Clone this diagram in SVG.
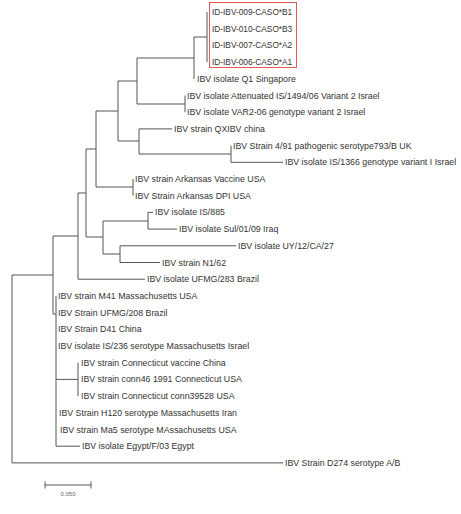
<svg xmlns="http://www.w3.org/2000/svg" width="461" height="514" viewBox="0 0 461 514">
<style>
.l{font-family:"Liberation Sans",Arial,sans-serif;font-size:8.8px;fill:#333}
.i{font-size:8.3px}
.e{stroke:#555;stroke-width:1;fill:none}
.s{font-family:"Liberation Sans",Arial,sans-serif;font-size:6px;fill:#666}
</style>
<rect width="461" height="514" fill="#fff"/>
<g id="connectors" class="e">
<path d="M207 12V62.1"/>
<path d="M194 37H207M194 37V78.8"/>
<path d="M185 95.5V112.2"/>
<path d="M137 58H194M137 104H185M137 58V104"/>
<path d="M231 145.6V162.3M231 162.3H283"/>
<path d="M139 128.9H172M139 154H231M139 128.9V154"/>
<path d="M118 81H137M118 141H139M118 81V141"/>
<path d="M133 179V195.7"/>
<path d="M96 111H118M96 187H133M96 111V187"/>
<path d="M148 212.4H153M148 229.1H177M148 212.4V229.1"/>
<path d="M120 245.8H236M120 262.5H160M120 245.8V262.5"/>
<path d="M103 221H148M103 254H120M103 221V254"/>
<path d="M86 149H96M86 237H103M86 149V237"/>
<path d="M78 193H86M78 279.2H145M78 193V279.2"/>
<path d="M78 362.7V396.1"/>
<path d="M56 295.9V446.2M56 379.4H78M56 446.2H80"/>
<path d="M53 236H78M53 314H56M53 236V314"/>
<path d="M12 275H53M12 462.9H283M12 275V462.9"/>
</g>
<g id="highlight"><rect x="209.5" y="2.5" width="87" height="65" fill="none" stroke="#e05a5a" stroke-width="1"/></g>
<g id="n1"><text class="l i" x="212" y="15">ID-IBV-009-CASO*B1</text></g>
<g id="n2"><text class="l i" x="212" y="31.7">ID-IBV-010-CASO*B3</text></g>
<g id="n3"><text class="l i" x="212" y="48.4">ID-IBV-007-CASO*A2</text></g>
<g id="n4"><text class="l i" x="212" y="65.1">ID-IBV-006-CASO*A1</text></g>
<g id="n5"><text class="l" x="197" y="81.8">IBV isolate Q1 Singapore</text></g>
<g id="n6"><text class="l" x="187" y="98.5">IBV isolate Attenuated IS/1494/06 Variant 2 Israel</text></g>
<g id="n7"><text class="l" x="187" y="115.2">IBV isolate VAR2-06 genotype variant 2 Israel</text></g>
<g id="n8"><text class="l" x="174" y="131.9">IBV strain QXIBV china</text></g>
<g id="n9"><text class="l" x="233" y="148.6">IBV Strain 4/91 pathogenic serotype793/B UK</text></g>
<g id="n10"><text class="l" x="285" y="165.3">IBV isolate IS/1366 genotype variant I Israel</text></g>
<g id="n11"><text class="l" x="135" y="182">IBV strain Arkansas Vaccine USA</text></g>
<g id="n12"><text class="l" x="135" y="198.7">IBV Strain Arkansas DPI USA</text></g>
<g id="n13"><text class="l" x="155" y="215.4">IBV isolate IS/885</text></g>
<g id="n14"><text class="l" x="179" y="232.1">IBV isolate Sul/01/09 Iraq</text></g>
<g id="n15"><text class="l" x="238" y="248.8">IBV isolate UY/12/CA/27</text></g>
<g id="n16"><text class="l" x="162" y="265.5">IBV strain N1/62</text></g>
<g id="n17"><text class="l" x="147" y="282.2">IBV isolate UFMG/283 Brazil</text></g>
<g id="n18"><text class="l" x="58" y="298.9">IBV strain M41 Massachusetts USA</text></g>
<g id="n19"><text class="l" x="58" y="315.6">IBV Strain UFMG/208 Brazil</text></g>
<g id="n20"><text class="l" x="58" y="332.3">IBV Strain D41 China</text></g>
<g id="n21"><text class="l" x="58" y="349">IBV isolate IS/236 serotype Massachusetts Israel</text></g>
<g id="n22"><text class="l" x="81" y="365.7">IBV strain Connecticut vaccine China</text></g>
<g id="n23"><text class="l" x="81" y="382.4">IBV strain conn46 1991 Connecticut USA</text></g>
<g id="n24"><text class="l" x="81" y="399.1">IBV strain Connecticut conn39528 USA</text></g>
<g id="n25"><text class="l" x="59" y="415.8">IBV Strain H120 serotype Massachusetts Iran</text></g>
<g id="n26"><text class="l" x="60" y="432.5">IBV strain Ma5 serotype MAssachusetts USA</text></g>
<g id="n27"><text class="l" x="82" y="449.2">IBV isolate Egypt/F/03 Egypt</text></g>
<g id="n28"><text class="l" x="285" y="465.9">IBV Strain D274 serotype A/B</text></g>
<g id="scale"><path class="e" d="M45 485H91M45 481.5V488.5M91 481.5V488.5"/><text class="s" x="68" y="496" text-anchor="middle">0.050</text></g>
</svg>
